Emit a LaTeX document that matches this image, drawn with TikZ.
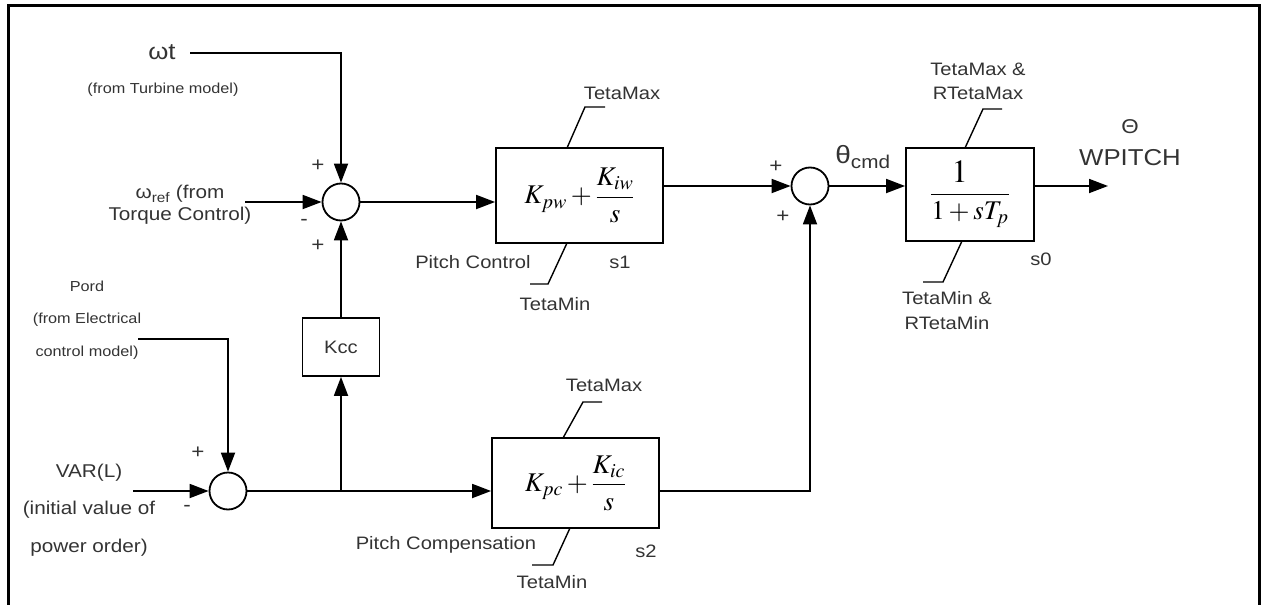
\documentclass[tikz,border=0pt]{standalone}
\usepackage{mathptmx}
\usepackage{fontspec}
\setmainfont{Liberation Sans}[FakeStretch=1.12]
\usetikzlibrary{arrows.meta,calc}
\tikzset{
  sumnode/.style={circle, draw, minimum size=37pt, inner sep=0pt, line width=1.8pt},
  blk/.style={draw, rectangle, line width=1.8pt, inner sep=0pt},
  sig/.style={-{Triangle[length=19pt,width=14pt]}, line width=1.8pt},
  lead/.style={line width=1.4pt},
  lbl/.style={inner sep=0pt, text=black!80},
  small/.style={font=\fontsize{14.5}{17}\selectfont},
  signf/.style={font=\fontsize{20}{22}\selectfont},
  big/.style={font=\fontsize{23}{26}\selectfont},
  mfont/.style={font=\fontsize{27}{30}\selectfont},
}
\begin{document}
\begin{tikzpicture}[x=1pt,y=-1pt,font=\fontsize{18}{21}\selectfont,line width=1.8pt]
\useasboundingbox (0,0) rectangle (1262,605);
\draw[line width=3pt] (8,605) -- (8,5) -- (1259,5) -- (1259,605);

% summing junctions
\node[sumnode] (s1) at (341,202) {};
\node[sumnode] (s2) at (810,186) {};
\node[sumnode] (s3) at (228,491) {};

% blocks
\node[blk, mfont, minimum width=167pt, minimum height=95pt] (b1) at (579.5,195.5)
  {$\displaystyle K_{pw}+\frac{K_{iw}}{s}$};
\node[blk, mfont, minimum width=167pt, minimum height=90pt] (b2) at (575.5,483)
  {$\displaystyle K_{pc}+\frac{K_{ic}}{s}$};
\node[blk, minimum width=77pt, minimum height=58pt, text=black!80] (kcc) at (341,347) {Kcc};
\node[blk, mfont, minimum width=128pt, minimum height=93pt] (b0) at (970,194.5)
  {$\displaystyle \frac{\scalebox{1.2}{$1$}}{1+sT_p}$};

% free ends
\coordinate (wtin) at (190,53);
\coordinate (wrefin) at (245,202);
\coordinate (pordin) at (138,339);
\coordinate (varin) at (133,491);
\coordinate (out) at (1108,186);
\coordinate (j) at (kcc |- s3);

% connectors
\draw[sig] (wtin) -| (s1.north);
\draw[sig] (wrefin) -- (s1.west);
\draw[sig] (kcc.north) -- (s1.south);
\draw[sig] (s1.east) -- (s1 -| b1.west);
\draw[sig] (b1.east |- s2) -- (s2.west);
\draw[sig] (b2.east |- s3) -| (s2.south);
\draw[sig] (s2.east) -- (b0.west |- s2);
\draw[sig] (b0.east |- s2) -- (out);
\draw[sig] (pordin) -| (s3.north);
\draw[sig] (varin) -- (s3.west);
\draw[sig] (s3.east) -- (s3 -| b2.west);
\draw[sig] (j) -- (kcc.south);

% limit leaders
\draw[lead] (567,148) -- (585,107) -- (605,107);
\draw[lead] (567,243) -- (548,284) -- (530,284);
\draw[lead] (563,438) -- (583,402) -- (602,402);
\draw[lead] (570,528) -- (553,565) -- (532,565);
\draw[lead] (965,148) -- (983,109) -- (1002,109);
\draw[lead] (962,241) -- (943,282) -- (923,282);

% labels: inputs
\node[lbl, font=\fontsize{23}{25}\selectfont] (twt) at (162,52) {ωt};
\node[lbl, small] (tturb) at (163,90) {(from Turbine model)};
\node[lbl, align=center, font=\fontsize{18.5}{22}\selectfont] (twref) at (180,205)
  {ω\textsubscript{ref} (from\\Torque Control)};
\node[lbl, small, align=center, font=\fontsize{14.5}{32.5}\selectfont] (tpord) at (87,320)
  {Pord\\(from Electrical\\control model)};
\node[lbl, align=center, font=\fontsize{18.5}{37.5}\selectfont] (tvar) at (89,510)
  {VAR(L)\\(initial value of\\power order)};

% signs
\node[lbl, signf] at (318,166) {+};
\node[lbl, signf] at (304,222) {-};
\node[lbl, signf] at (318,246) {+};
\node[lbl, signf] at (198,453) {+};
\node[lbl, signf] at (187,508) {-};
\node[lbl, signf] at (776,167) {+};
\node[lbl, signf] at (783,217) {+};

% block labels
\node[lbl] (tmax1) at (622,93) {TetaMax};
\node[lbl] (tmin1) at (555,304) {TetaMin};
\node[lbl] (tpc) at (473,262) {Pitch Control};
\node[lbl] (ts1) at (620,262) {s1};
\node[lbl] (tmax2) at (604,385) {TetaMax};
\node[lbl] (tmin2) at (552,582) {TetaMin};
\node[lbl] (tpcomp) at (446,545) {Pitch Compensation};
\node[lbl] (ts2) at (646,551) {s2};
\node[lbl, align=center, font=\fontsize{18}{24}\selectfont] (tmax0) at (978,81) {TetaMax \&\\RTetaMax};
\node[lbl, align=center, font=\fontsize{18}{25}\selectfont] (tmin0) at (947,311) {TetaMin \&\\RTetaMin};
\node[lbl] (ts0) at (1041,259) {s0};

% outputs
\node[lbl, font=\fontsize{25}{27}\selectfont] (tcmd) at (863,157) {θ\textsubscript{cmd}};
\node[lbl, font=\fontsize{20}{22}\selectfont] (ttheta) at (1130,127) {Θ};
\node[lbl, big] (twp) at (1130,158) {WPITCH};
\end{tikzpicture}
\end{document}
